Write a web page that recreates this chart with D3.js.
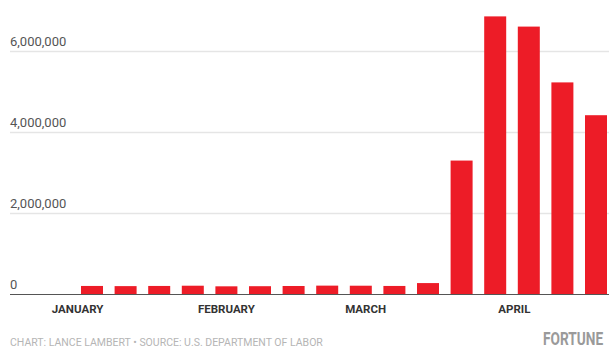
<!DOCTYPE html>
<html>
<head>
<meta charset="utf-8">
<script src="https://cdn.jsdelivr.net/npm/d3@7"></script>
<style>
  body { margin: 0; background: #fff; }
  svg { display: block; }
</style>
</head>
<body>
<script>
// weekly initial jobless claims, week ending
const weeks = ["2020-01-04","2020-01-11","2020-01-18","2020-01-25","2020-02-01","2020-02-08",
  "2020-02-15","2020-02-22","2020-02-29","2020-03-07","2020-03-14","2020-03-21",
  "2020-03-28","2020-04-04","2020-04-11","2020-04-18"];
const claims = [211000, 207000, 211000, 217000, 202000, 205000, 210000, 219000,
  217000, 211000, 282000, 3307000, 6867000, 6615000, 5237000, 4427000];
const yTicks = [0, 2000000, 4000000, 6000000];
const monthTicks = ["2020-01-01","2020-02-01","2020-03-01","2020-04-01"];
const monthNames = ["JANUARY","FEBRUARY","MARCH","APRIL"];

const width = 609;
const height = 349;
const parse = d3.utcParse("%Y-%m-%d");

const x = d3.scaleUtc()
  .domain([parse("2020-01-01"), parse("2020-04-18")])
  .range([77.6, 596]);
const y = d3.scaleLinear().domain([0, 6000000]).range([294.5, 51.5]);
const barW = 22;

const svg = d3.create("svg")
  .attr("width", width)
  .attr("height", height)
  .attr("viewBox", [0, 0, width, height]);

// gridlines + labels
const grid = svg.append("g")
  .selectAll("g")
  .data(yTicks)
  .join("g");

grid.filter(d => d > 0).append("line")
  .attr("x1", 10).attr("x2", width)
  .attr("y1", d => y(d)).attr("y2", d => y(d))
  .attr("stroke", "#e5e5e5")
  .attr("stroke-width", 1.5);

grid.append("text")
  .attr("x", 10)
  .attr("y", d => y(d) - 6)
  .attr("font-family", "Roboto, sans-serif")
  .attr("font-size", 13)
  .attr("fill", "#555")
  .text(d => d3.format(",")(d));

// bars
svg.append("g")
  .selectAll("rect")
  .data(weeks)
  .join("rect")
  .attr("x", (d, i) => x(parse(d)) - barW / 2)
  .attr("width", barW)
  .attr("y", (d, i) => y(claims[i]))
  .attr("height", (d, i) => y(0) - y(claims[i]))
  .attr("fill", "#ed1c27");

// baseline
svg.append("line")
  .attr("x1", 10).attr("x2", width)
  .attr("y1", y(0)).attr("y2", y(0))
  .attr("stroke", "#555")
  .attr("stroke-width", 1);

// month labels
svg.append("g")
  .selectAll("text")
  .data(monthTicks)
  .join("text")
  .attr("x", d => x(parse(d)))
  .attr("y", 313)
  .attr("text-anchor", "middle")
  .attr("font-family", "Roboto, sans-serif")
  .attr("font-weight", "bold")
  .attr("font-size", 11.5)
  .attr("fill", "#333")
  .text((d, i) => monthNames[i]);

// footer
svg.append("text")
  .attr("x", 10)
  .attr("y", 346)
  .attr("font-family", "Roboto, sans-serif")
  .attr("font-size", 10.5)
  .attr("fill", "#b5b5b5")
  .text("CHART: LANCE LAMBERT • SOURCE: U.S. DEPARTMENT OF LABOR");

// logo, squeezed horizontally to look condensed
svg.append("text")
  .attr("transform", "translate(543,345) scale(0.76,1)")
  .attr("font-family", "Roboto, sans-serif")
  .attr("font-weight", "bold")
  .attr("font-size", 18)
  .attr("fill", "#9a9a9a")
  .text("FORTUNE");

document.body.appendChild(svg.node());
</script>
</body>
</html>
